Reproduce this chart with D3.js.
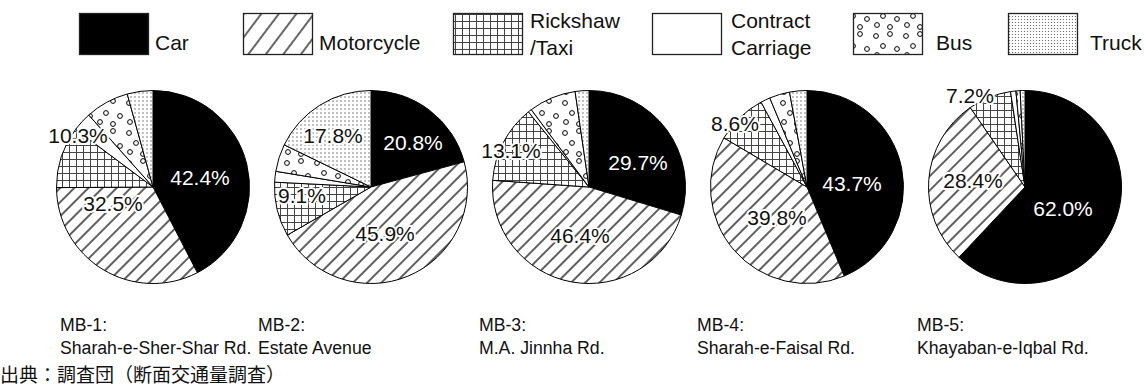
<!DOCTYPE html>
<html>
<head>
<meta charset="utf-8">
<script src="https://cdn.jsdelivr.net/npm/d3@7"></script>
<style>
  html, body { margin: 0; padding: 0; background: #fff; }
  svg { display: block; font-family: "Liberation Sans", Arial, sans-serif; }
</style>
</head>
<body>
<svg id="chart" width="1144" height="387"></svg>
<script>
// Vehicle categories, in the order the slices run clockwise from 12 o'clock
const categories = ["Car", "Motorcycle", "Rickshaw/Taxi", "Contract Carriage", "Bus", "Truck"];
const legendLines = [["Car"], ["Motorcycle"], ["Rickshaw", "/Taxi"], ["Contract", "Carriage"], ["Bus"], ["Truck"]];

// Survey points
const siteCodes = ["MB-1:", "MB-2:", "MB-3:", "MB-4:", "MB-5:"];
const siteRoads = ["Sharah-e-Sher-Shar Rd.", "Estate Avenue", "M.A. Jinnha Rd.", "Sharah-e-Faisal Rd.", "Khayaban-e-Iqbal Rd."];

// Modal share (%) at each point: Car, Motorcycle, Rickshaw/Taxi, Contract Carriage, Bus, Truck
const mb1 = [42.4, 32.5, 10.3, 3.2, 7.3, 4.3];
const mb2 = [20.8, 45.9, 9.1, 1.8, 4.6, 17.8];
const mb3 = [29.7, 46.4, 13.1, 0.6, 7.9, 2.3];
const mb4 = [43.7, 39.8, 8.6, 1.6, 3.4, 2.9];
const mb5 = [62.0, 28.4, 7.2, 0.9, 0.7, 0.8];
const shares = [mb1, mb2, mb3, mb4, mb5];

// Which slices carry a percentage label
const labelled = [[0, 1, 2], [0, 1, 2, 5], [0, 1, 2], [0, 1, 2], [0, 1, 2]];

const sourceNote = "出典：調査団（断面交通量調査）";

// ---- layout ----
const pieR = 96.5, pieCY = 187;
const pieX = d3.scalePoint().domain(siteCodes).range([153, 1025]);

// label placement relative to each pie centre, keyed by slice index
const labelNudge = [
  {0: [47, -10], 1: [-40, 16], 2: [-75, -52]},
  {0: [42, -45], 1: [14, 46], 2: [-69, 8], 5: [-38, -52]},
  {0: [49, -25], 1: [-9, 48], 2: [-78, -37]},
  {0: [45, -4], 1: [-30, 30], 2: [-72, -64]},
  {0: [38, 21], 1: [-52, -7], 2: [-55, -92]}
];

const legendBoxX = [79, 243, 453, 652, 853, 1008];
const legendTextX = [155, 319, 530, 731, 936, 1090];

const svg = d3.select("#chart");
const defs = svg.append("defs");

// hatch for Motorcycle
function hatch(id, size, angle, sw) {
  const p = defs.append("pattern").attr("id", id)
    .attr("patternUnits", "userSpaceOnUse")
    .attr("width", size).attr("height", size)
    .attr("patternTransform", `rotate(${angle})`);
  p.append("rect").attr("width", size).attr("height", size).attr("fill", "#fff");
  p.append("line").attr("x1", size / 2).attr("x2", size / 2).attr("y1", 0).attr("y2", size)
    .attr("stroke", "#000").attr("stroke-width", sw);
}
hatch("moto", 10, 45, 1.25);
hatch("motoKey", 14, 37, 1.2);

// grid for Rickshaw/Taxi
const grid = defs.append("pattern").attr("id", "grid")
  .attr("patternUnits", "userSpaceOnUse").attr("width", 7).attr("height", 7);
grid.append("rect").attr("width", 7).attr("height", 7).attr("fill", "#fff");
grid.append("path").attr("d", "M0,0.5H7M0.5,0V7")
  .attr("stroke", "#444").attr("stroke-width", 1).attr("fill", "none");

// open circles for Bus
const bus = defs.append("pattern").attr("id", "bus")
  .attr("patternUnits", "userSpaceOnUse").attr("width", 30).attr("height", 30);
bus.append("rect").attr("width", 30).attr("height", 30).attr("fill", "#fff");
[[6, 6], [20, 4], [13, 16], [27, 19], [7, 25], [20, 27]].forEach(([x, y]) =>
  bus.append("circle").attr("cx", x).attr("cy", y).attr("r", 2.4)
    .attr("fill", "none").attr("stroke", "#000").attr("stroke-width", 1));

// fine dots for Truck
function dots(id, size, r) {
  const p = defs.append("pattern").attr("id", id)
    .attr("patternUnits", "userSpaceOnUse").attr("width", size).attr("height", size);
  p.append("rect").attr("width", size).attr("height", size).attr("fill", "#fff");
  p.append("circle").attr("cx", size / 2).attr("cy", size / 2).attr("r", r).attr("fill", "#555");
}
dots("truck", 4, 0.7);
dots("truckKey", 3, 0.6);

const pieFill = ["#000", "url(#moto)", "url(#grid)", "#fff", "url(#bus)", "url(#truck)"];
const keyFill = ["#000", "url(#motoKey)", "url(#grid)", "#fff", "url(#bus)", "url(#truckKey)"];

// ---- legend ----
const legend = svg.append("g").attr("class", "legend");
categories.forEach((c, i) => {
  legend.append("rect")
    .attr("x", legendBoxX[i] + 0.5).attr("y", 13.5)
    .attr("width", 69).attr("height", 41)
    .attr("fill", keyFill[i]).attr("stroke", "#222").attr("stroke-width", 1.3);
  const lines = legendLines[i];
  const t = legend.append("text").attr("font-size", 21).attr("fill", "#111");
  if (lines.length === 1) {
    t.append("tspan").attr("x", legendTextX[i]).attr("y", 50).text(lines[0]);
  } else {
    t.append("tspan").attr("x", legendTextX[i]).attr("y", 28).text(lines[0]);
    t.append("tspan").attr("x", legendTextX[i]).attr("y", 55).text(lines[1]);
  }
});

// ---- pies ----
const pie = d3.pie().sort(null).value(d => d);
const arc = d3.arc().innerRadius(0).outerRadius(pieR);

shares.forEach((vals, k) => {
  const g = svg.append("g").attr("transform", `translate(${pieX(siteCodes[k])},${pieCY})`);
  const arcs = pie(vals);
  g.selectAll("path").data(arcs).join("path")
    .attr("d", arc)
    .attr("fill", (d, i) => pieFill[i])
    .attr("stroke", "#000").attr("stroke-width", 1)
    .attr("stroke-linejoin", "round");

  labelled[k].forEach(i => {
    const [dx, dy] = labelNudge[k][i];
    const onBlack = i === 0;
    g.append("text")
      .attr("x", dx).attr("y", dy)
      .attr("dy", "0.36em")
      .attr("text-anchor", "middle")
      .attr("font-size", 21)
      .attr("fill", onBlack ? "#fff" : "#111")
      .attr("stroke", onBlack ? "none" : "#fff")
      .attr("stroke-width", onBlack ? 0 : 4)
      .attr("paint-order", "stroke")
      .attr("stroke-linejoin", "round")
      .text(vals[i].toFixed(1) + "%");
  });
});

// ---- site captions (slightly condensed type) ----
const capX = [60, 258, 479, 697, 917];
siteCodes.forEach((code, k) => {
  const t = svg.append("text")
    .attr("transform", `translate(${capX[k]},0) scale(0.93,1)`)
    .attr("font-size", 19).attr("fill", "#111");
  t.append("tspan").attr("x", 0).attr("y", 331).text(code);
  t.append("tspan").attr("x", 0).attr("y", 354).text(siteRoads[k]);
});

// ---- source note ----
svg.append("text")
  .attr("x", 0).attr("y", 382)
  .attr("font-family", "'Noto Sans CJK JP', sans-serif")
  .attr("font-size", 19).attr("fill", "#111")
  .text(sourceNote);
</script>
</body>
</html>
